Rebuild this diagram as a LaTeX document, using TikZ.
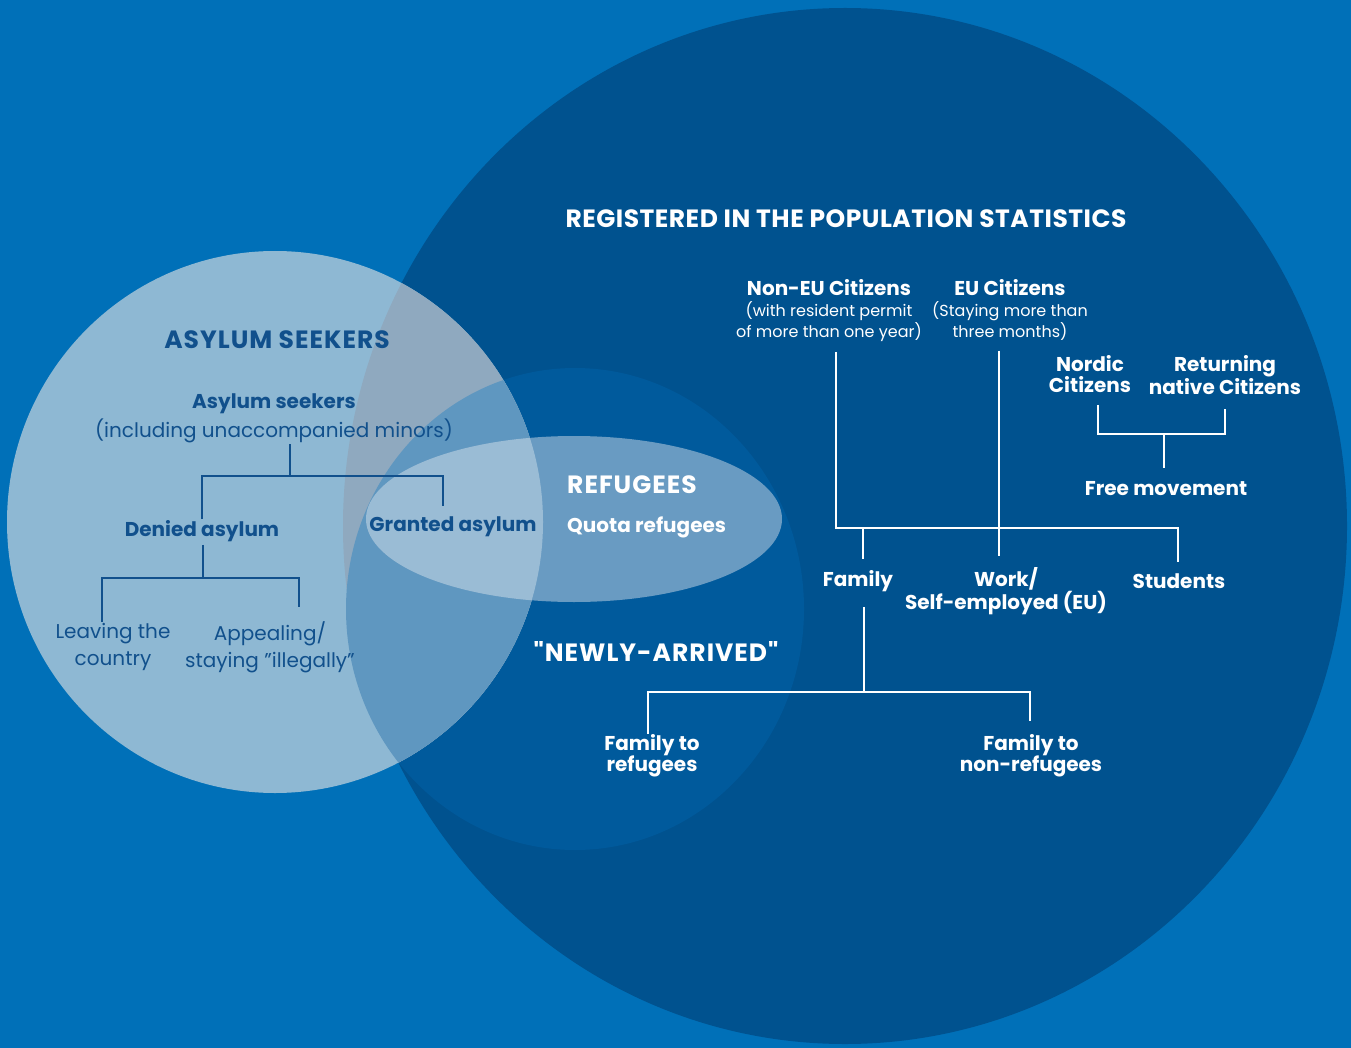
\documentclass[tikz,border=0pt]{standalone}
\usepackage{fontspec}
\setmainfont{Poppins}[Ligatures=TeXOff]
\usetikzlibrary{positioning}

\definecolor{bgblue}{HTML}{0070B8}
\definecolor{bigblue}{HTML}{00528F}
\definecolor{midblue}{HTML}{005A9C}
\definecolor{lightA}{HTML}{8EB8D3}
\definecolor{lightB}{HTML}{8FA9BF}
\definecolor{lightC}{HTML}{5F97C0}
\definecolor{ellA}{HTML}{9ABCD5}
\definecolor{ellB}{HTML}{699BC2}
\definecolor{darktext}{HTML}{11508C}

\begin{document}
\begin{tikzpicture}[x=1pt,y=-1pt]
	\tikzstyle{lab} = [inner sep=1pt, align=center, text=white, font=\fontsize{20}{21}\selectfont\bfseries]
	\tikzstyle{sublab} = [inner sep=1pt, align=center, text=white, font=\fontsize{16}{21}\selectfont]
	\tikzstyle{head} = [inner sep=1pt, text=white, font=\fontsize{25}{28}\selectfont\bfseries\addfontfeature{LetterSpace=4}]
	\tikzstyle{darklab} = [lab, text=darktext, font=\fontsize{20}{27}\selectfont\bfseries]
	\tikzstyle{darkreg} = [lab, text=darktext, font=\fontsize{20}{27}\selectfont]
	\tikzstyle{line} = [white, line width=2.5pt]
	\tikzstyle{darkline} = [darktext, line width=2.5pt]

	% background and circles
	\useasboundingbox (0,0) rectangle (1351,1048);
	\fill[bgblue] (0,0) rectangle (1351,1048);
	\fill[bigblue] (845,526) ellipse [x radius=502pt, y radius=518pt];
	\fill[midblue] (575,609) ellipse [x radius=229pt, y radius=241pt];
	\fill[lightA] (275,522) ellipse [x radius=268pt, y radius=271pt];
	\begin{scope}
		\clip (275,522) ellipse [x radius=268pt, y radius=271pt];
		\fill[lightB] (845,526) ellipse [x radius=502pt, y radius=518pt];
		\fill[lightC] (575,609) ellipse [x radius=229pt, y radius=241pt];
	\end{scope}
	\fill[ellB] (574,519) ellipse [x radius=208pt, y radius=83pt];
	\begin{scope}
		\clip (275,522) ellipse [x radius=268pt, y radius=271pt];
		\fill[ellA] (574,519) ellipse [x radius=208pt, y radius=83pt];
	\end{scope}

	% registered
	\node (regstat) [head, font=\fontsize{25}{28}\selectfont\bfseries\addfontfeature{LetterSpace=2}] at (846,219) {REGISTERED IN THE POPULATION STATISTICS};
	\node (noneu) [lab] at (829,288) {Non-EU Citizens};
	\node (noneusub) [sublab, below=3pt of noneu] {(with resident permit\\of more than one year)};
	\node (eu) [lab] at (1010,288) {EU Citizens};
	\node (eusub) [sublab, below=3pt of eu] {(Staying more than\\three months)};
	\node (nordic) [lab] at (1090,374) {Nordic\\Citizens};
	\node (returning) [lab] at (1225,375) {Returning\\native Citizens};
	\node (freemov) [lab] at (1166,489) {Free movement};
	\node (family) [lab] at (858,581) {Family};
	\node (work) [lab] at (1006,591) {Work/\\Self-employed (EU)};
	\node (students) [lab] at (1179,581) {Students};
	\node (famref) [lab] at (652,756) {Family to\\refugees};
	\node (famnon) [lab] at (1031,756) {Family to\\non-refugees};

	% newly arrived
	\node (newly) [head] at (656,651) {"NEWLY-ARRIVED"};
	\node (refugees) [head, anchor=west] at (566,485) {REFUGEES};
	\node (quota) [lab, anchor=west] at (566,527) {Quota refugees};

	% asylum seekers
	\node (asyhead) [head, text=darktext] at (277,340) {ASYLUM SEEKERS};
	\node (asyl) [darklab] at (274,404) {Asylum seekers};
	\node (incl) [darkreg] at (274,431) {(including unaccompanied minors)};
	\node (denied) [darklab] at (202,531) {Denied asylum};
	\node (granted) [darklab] at (453,527) {Granted asylum};
	\node (leaving) [darkreg] at (113,647) {Leaving the\\country};
	\node (appeal) [darkreg] at (270,647) {Appealing/\\staying ”illegally”};

	% tree joints
	\coordinate (jnon) at (836,528);
	\coordinate (jfam) at (863,528);
	\coordinate (jeu) at (999,528);
	\coordinate (jstu) at (1178,528);
	\coordinate (jnord) at (1098,434);
	\coordinate (jfree) at (1164,434);
	\coordinate (jret) at (1225,434);
	\coordinate (jkin) at (864,692);
	\coordinate (jkinl) at (648,692);
	\coordinate (jkinr) at (1030,692);
	\coordinate (jasy) at (290,476);
	\coordinate (jden) at (202,476);
	\coordinate (jgra) at (443,476);
	\coordinate (jlea) at (203,578);
	\coordinate (jleal) at (102,578);
	\coordinate (jlear) at (299,578);

	\draw [line, shorten <=9pt] (jnon |- noneusub.south) -- (jnon) -- (jstu) -- ([yshift=10pt]jstu |- students.north);
	\draw [line, shorten <=9pt, shorten >=10pt] (jeu |- eusub.south) -- (jeu |- work.north);
	\draw [line, shorten >=10pt] (jfam) -- (jfam |- family.north);
	\draw [line, shorten <=11pt, shorten >=13pt] (jnord |- nordic.south) -- (jnord) -- (jret) -- (jret |- returning.south);
	\draw [line, shorten >=13pt] (jfree) -- (jfree |- freemov.north);
	\draw [line, shorten <=14pt] (jkin |- family.south) -- (jkin);
	\draw [line, shorten >=13pt] (jkinl |- famref.north) -- (jkinl) -- (jkinr) -- (jkinr |- famnon.north);
	\draw [darkline] (jasy |- incl.south) -- (jasy);
	\draw [darkline, shorten >=10pt] (jden |- denied.north) -- (jden) -- (jgra) -- (jgra |- granted.north);
	\draw [darkline, shorten <=2pt] (jlea |- denied.south) -- (jlea);
	\draw [darkline, shorten >=13pt] (jleal |- leaving.north) -- (jleal) -- (jlear) -- (jlear |- appeal.north);
\end{tikzpicture}
\end{document}
